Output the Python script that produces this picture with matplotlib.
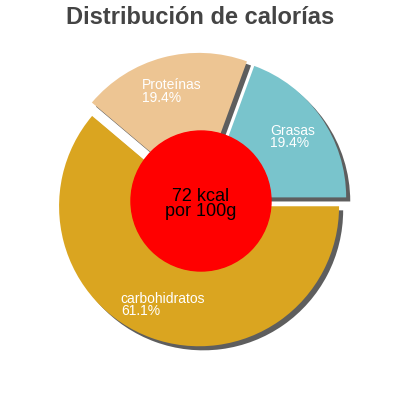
import matplotlib.pyplot as plt

plt.rcParams['font.family'] = ['Liberation Sans', 'DejaVu Sans']

nutrients = ["Grasas", "Proteínas", "carbohidratos"]
percents = [19.4, 19.4, 61.1]
colors = ["#79c4cc", "#edc593", "#daa520"]
explode = [0.045, 0.06, 0.04]
kcal = 72

labels = [f"{n}\n{p}%" for n, p in zip(nutrients, percents)]

fig = plt.figure(figsize=(4, 4), dpi=100)
ax = fig.add_axes([0, 0, 1, 1])

# shadow offset is in data units scaled by dpi/72
wedges, texts = ax.pie(
    percents, labels=labels, colors=colors, explode=explode,
    startangle=0, counterclock=True, labeldistance=0.75,
    wedgeprops=dict(linewidth=0),
    shadow={'ox': 0.021, 'oy': -0.021, 'facecolor': '#5e5e5e',
            'edgecolor': '#5e5e5e', 'alpha': 1},
    textprops=dict(color='white', fontsize=10),
)
for t in texts:
    t.set_horizontalalignment('center')
    t.set_multialignment('left')
    t.set_linespacing(0.85)

ax.add_patch(plt.Circle((0, 0), 0.5, color='red', zorder=5))
ax.text(0, -0.02, f"{kcal} kcal\npor 100g", ha='center', va='center',
        fontsize=13, linespacing=0.85, color='black', zorder=6)

ax.set_aspect('equal')
ax.set_xlim(-201 / 140, 199 / 140)
ax.set_ylim(-199 / 140, 201 / 140)
ax.axis('off')

fig.text(0.5, 1 - 17 / 400, "Distribución de calorías", ha='center',
         va='center', fontsize=17, fontweight='bold', color='#444444')

fig.savefig("out.png", dpi=100)
